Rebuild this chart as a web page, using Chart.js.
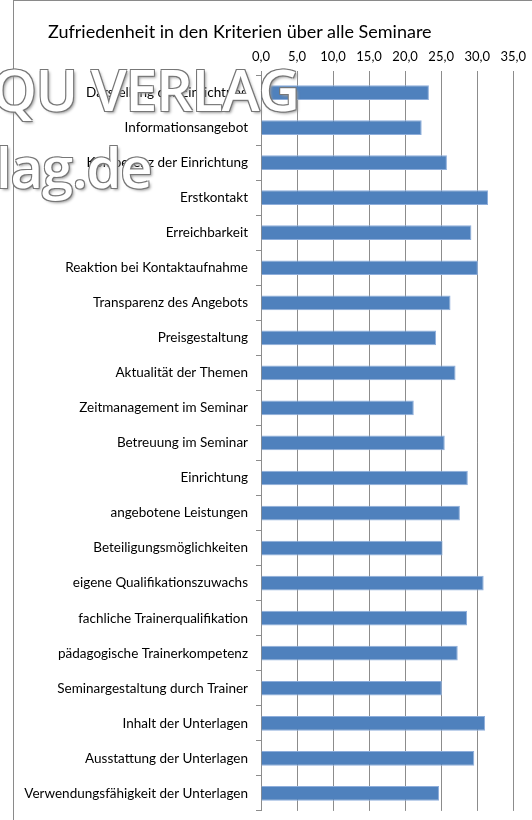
<!DOCTYPE html>
<html>
<head>
<meta charset="utf-8">
<script src="https://cdn.jsdelivr.net/npm/chart.js@4"></script>
<style>
  body { margin: 0; background: #fff; }
  #wrap { position: relative; width: 532px; height: 820px; overflow: hidden; }
  #frame { position: absolute; left: 13px; top: 0; width: 540px; height: 840px; border-left: 1px solid #8a8a8a; border-top: 1px solid #8a8a8a; }
  #title { position: absolute; left: 48px; top: 20px; font: 18px Lato, sans-serif; color: #000; white-space: nowrap; }
  canvas { position: absolute; left: 0; top: 0; }
  .wm { position: absolute; font-family: "Open Sans", sans-serif; font-weight: 600; color: #fff; white-space: nowrap;
        text-shadow: -1px -1px 0 #777, 1px -1px 0 #777, -1px 1px 0 #777, 1px 1px 0 #777, 2px 2px 3px #999; }
</style>
</head>
<body>
<div id="wrap">
  <div id="frame"></div>
  <canvas id="myBar" width="532" height="827"></canvas>
  <div id="title">Zufriedenheit in den Kriterien über alle Seminare</div>
  <div class="wm" style="left:-8px; top:50px; font-size:57px; letter-spacing:-1px;">QU VERLAG</div>
  <div class="wm" style="left:-4px; top:128px; font-size:56px; letter-spacing:-1px;">lag.de</div>
</div>
<script>
const Chart = window.Chart;

const categories = [
  'Darstellung der Einrichtung',
  'Informationsangebot',
  'Kompetenz der Einrichtung',
  'Erstkontakt',
  'Erreichbarkeit',
  'Reaktion bei Kontaktaufnahme',
  'Transparenz des Angebots',
  'Preisgestaltung',
  'Aktualität der Themen',
  'Zeitmanagement im Seminar',
  'Betreuung im Seminar',
  'Einrichtung',
  'angebotene Leistungen',
  'Beteiligungsmöglichkeiten',
  'eigene Qualifikationszuwachs',
  'fachliche Trainerqualifikation',
  'pädagogische Trainerkompetenz',
  'Seminargestaltung durch Trainer',
  'Inhalt der Unterlagen',
  'Ausstattung der Unterlagen',
  'Verwendungsfähigkeit der Unterlagen'
];
const values = [
  23.3, 22.3, 25.8, 31.5, 29.2, 30.1, 26.3, 24.3, 27.0, 21.2, 25.5,
  28.7, 27.6, 25.2, 30.9, 28.6, 27.3, 25.1, 31.1, 29.6, 24.7
];
const xTicks = [0, 5, 10, 15, 20, 25, 30, 35];

const ctx = document.getElementById('myBar').getContext('2d');
new Chart(ctx, {
  type: 'bar',
  data: {
    labels: categories,
    datasets: [{
      data: values,
      backgroundColor: '#4f81bd',
      borderColor: '#8eaedb',
      borderWidth: 1,
      barPercentage: 0.42,
      categoryPercentage: 1
    }]
  },
  options: {
    indexAxis: 'y',
    responsive: false,
    animation: false,
    layout: { padding: { left: 0, right: 17, top: 38, bottom: 1 } },
    plugins: { legend: { display: false }, title: { display: false }, tooltip: { enabled: false } },
    scales: {
      x: {
        position: 'top',
        min: 0,
        max: 35,
        afterBuildTicks: scale => { scale.ticks = xTicks.map(v => ({ value: v })); },
        afterFit: scale => { scale.height = 37; },
        border: { display: false },
        grid: { color: '#8c8c8c', lineWidth: 1, drawTicks: true, tickLength: 4 },
        ticks: {
          color: '#000',
          padding: 6,
          font: { family: 'Lato', size: 13 },
          callback: v => v.toFixed(1).replace('.', ',')
        }
      },
      y: {
        afterFit: scale => { scale.width = 261; },
        border: { display: true, color: '#8c8c8c' },
        grid: { drawOnChartArea: false, offset: true, tickLength: 5, color: '#8c8c8c' },
        ticks: {
          color: '#000',
          padding: 8,
          autoSkip: false,
          font: { family: 'Lato', size: 13.5 }
        }
      }
    }
  }
});
</script>
</body>
</html>
